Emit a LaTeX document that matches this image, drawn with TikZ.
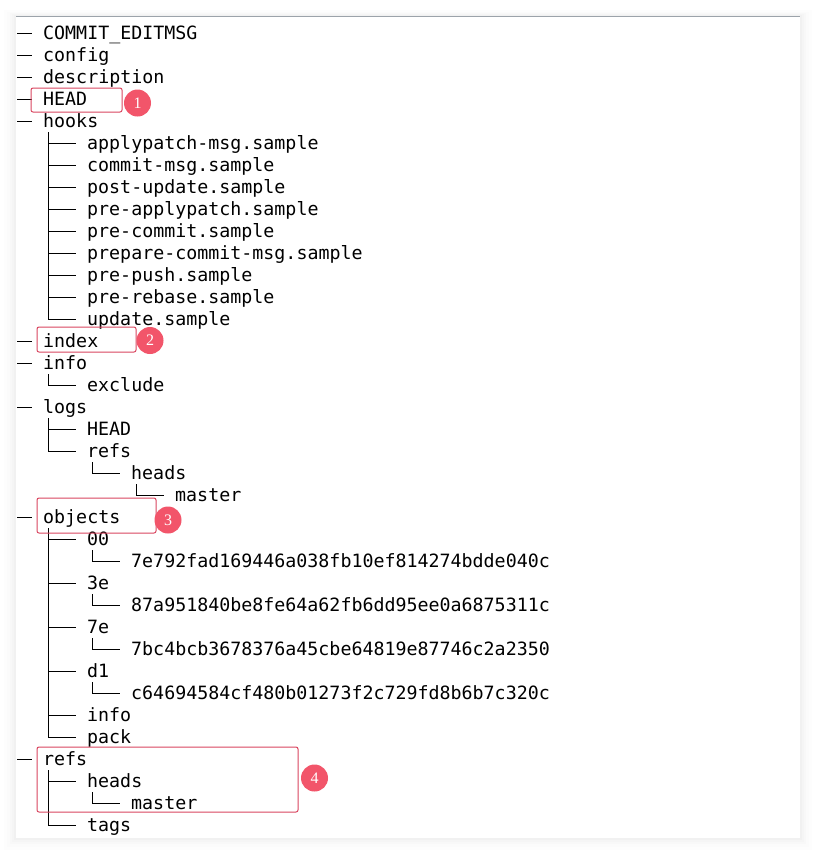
\documentclass[tikz,border=0pt]{standalone}
\usepackage{fontspec}
\newfontfamily\treemono{DejaVu Sans Mono}
\newfontfamily\badgefont{Liberation Serif}
\definecolor{hlred}{HTML}{DA4660}
\definecolor{badgered}{HTML}{F2556A}
\definecolor{topgrey}{HTML}{9CA3AA}
\tikzset{
  item/.style={anchor=base west, inner sep=0pt, font=\treemono\fontsize{18.3}{22}\selectfont, text=black},
  treeline/.style={draw=black, line width=0.85pt},
  hlbox/.style={draw=hlred, line width=1pt, rounded corners=2pt, inner sep=0pt, fill=none},
  badge/.style={circle, fill=badgered, text=white, minimum size=27pt, inner sep=0pt, font=\badgefont\fontsize{16}{16}\selectfont},
}
\newcommand\treeedge[2]{\draw[treeline] ([xshift=5.5pt,yshift=-5pt]#1.base west) |- ([xshift=-11pt,yshift=6pt]#2.base west);}
\newcommand\rootdash[1]{\draw[treeline] ([xshift=-26pt,yshift=6pt]#1.base west) -- ([xshift=-11pt,yshift=6pt]#1.base west);}
\begin{document}
\begin{tikzpicture}[x=1pt,y=-1pt]
\useasboundingbox (0,0) rectangle (816,855);
\fill[white] (0,0) rectangle (816,855);
% panel shadow
\foreach \d/\o in {12/0.006,9/0.008,6/0.010,4/0.012,2/0.014}{
  \fill[black, opacity=\o] (16-\d,16-\d/2) rectangle (800+\d,838+\d);
}
\fill[white] (16,16) rectangle (800,838);
\draw[topgrey, line width=1.4pt] (16,16.5) -- (800,16.5);

% rows: y baseline = 39 + 22*i
\node[item] (commitmsg) at (43,39) {COMMIT\_EDITMSG};
\node[item] (config) at (43,61) {config};
\node[item] (description) at (43,83) {description};
\node[item] (head) at (43,105) {HEAD};
\node[item] (hooks) at (43,127) {hooks};
\node[item] (h1) at (87,149) {applypatch-msg.sample};
\node[item] (h2) at (87,171) {commit-msg.sample};
\node[item] (h3) at (87,193) {post-update.sample};
\node[item] (h4) at (87,215) {pre-applypatch.sample};
\node[item] (h5) at (87,237) {pre-commit.sample};
\node[item] (h6) at (87,259) {prepare-commit-msg.sample};
\node[item] (h7) at (87,281) {pre-push.sample};
\node[item] (h8) at (87,303) {pre-rebase.sample};
\node[item] (h9) at (87,325) {update.sample};
\node[item] (index) at (43,347) {index};
\node[item] (info) at (43,369) {info};
\node[item] (exclude) at (87,391) {exclude};
\node[item] (logs) at (43,413) {logs};
\node[item] (loghead) at (87,435) {HEAD};
\node[item] (logrefs) at (87,457) {refs};
\node[item] (logheads) at (131,479) {heads};
\node[item] (logmaster) at (175,501) {master};
\node[item] (objects) at (43,523) {objects};
\node[item] (o00) at (87,545) {00};
\node[item] (o00a) at (131,567) {7e792fad169446a038fb10ef814274bdde040c};
\node[item] (o3e) at (87,589) {3e};
\node[item] (o3ea) at (131,611) {87a951840be8fe64a62fb6dd95ee0a6875311c};
\node[item] (o7e) at (87,633) {7e};
\node[item] (o7ea) at (131,655) {7bc4bcb3678376a45cbe64819e87746c2a2350};
\node[item] (od1) at (87,677) {d1};
\node[item] (od1a) at (131,699) {c64694584cf480b01273f2c729fd8b6b7c320c};
\node[item] (oinfo) at (87,721) {info};
\node[item] (opack) at (87,743) {pack};
\node[item] (refs) at (43,765) {refs};
\node[item] (refheads) at (87,787) {heads};
\node[item] (refmaster) at (131,809) {master};
\node[item] (tags) at (87,831) {tags};

% root dashes
\foreach \n in {commitmsg,config,description,head,hooks,index,info,logs,objects,refs}{\rootdash{\n}}

% tree edges
\foreach \c in {h1,h2,h3,h4,h5,h6,h7,h8,h9}{\treeedge{hooks}{\c}}
\treeedge{info}{exclude}
\treeedge{logs}{loghead}
\treeedge{logs}{logrefs}
\treeedge{logrefs}{logheads}
\treeedge{logheads}{logmaster}
\foreach \c in {o00,o3e,o7e,od1,oinfo,opack}{\treeedge{objects}{\c}}
\treeedge{o00}{o00a}
\treeedge{o3e}{o3ea}
\treeedge{o7e}{o7ea}
\treeedge{od1}{od1a}
\treeedge{refs}{refheads}
\treeedge{refs}{tags}
\treeedge{refheads}{refmaster}

% highlight boxes and badges
\node[hlbox, minimum width=91pt, minimum height=24pt] (box1) at (76.5,100) {};
\node[badge] (b1) at (137.5,103) {1};
\node[hlbox, minimum width=99pt, minimum height=25pt] (box2) at (86.5,339.5) {};
\node[badge] (b2) at (150,340.5) {2};
\node[hlbox, minimum width=119pt, minimum height=35pt] (box3) at (96.5,515.5) {};
\node[badge] (b3) at (168,520) {3};
\node[hlbox, minimum width=261pt, minimum height=65pt] (box4) at (167.5,779.5) {};
\node[badge] (b4) at (314.5,778) {4};
\end{tikzpicture}
\end{document}
